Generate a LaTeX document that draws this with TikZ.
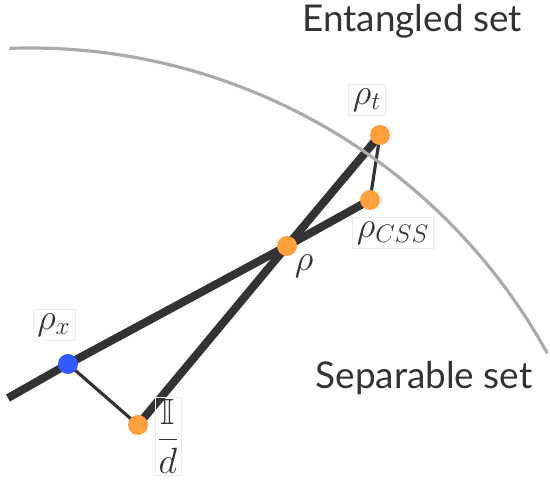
\documentclass[tikz,border=0pt]{standalone}
\usepackage{amssymb}
\usepackage{fontspec}
\setsansfont{Lato}
\usepackage{tikz}
\usetikzlibrary{positioning,backgrounds}
\definecolor{ink}{RGB}{51,51,51}
\definecolor{dotorange}{RGB}{255,160,60}
\definecolor{dotblue}{RGB}{50,90,255}
\definecolor{rim}{RGB}{170,170,170}
\definecolor{frame}{RGB}{236,236,236}

\begin{document}
\begin{tikzpicture}[
  dot/.style={circle,fill=#1,inner sep=0pt,minimum size=0.4cm},
  lbl/.style={draw=frame,line width=0.4pt,inner sep=2.5pt,font=\huge,text=ink},
  setlbl/.style={font=\sffamily\fontsize{21}{24}\selectfont,text=ink},
  ray/.style={draw=ink,line width=4.6pt},
  link/.style={draw=ink,line width=1.8pt}
]
\useasboundingbox (0,0) rectangle (11,9.62);

% boundary of the separable set
\draw[rim,line width=1.8pt] (0.6,-3.16) ++(92:11.82) arc[start angle=92,end angle=28.9,radius=11.82];

\node[setlbl] (ent) at (8.24,9.2) {Entangled set};
\node[setlbl] (sep) at (8.48,2.06) {Separable set};

\node[dot=dotorange] (rhot) at (7.6,6.92) {};
\node[dot=dotorange] (rhocss) at (7.4,5.62) {};
\node[dot=dotorange] (rho) at (5.74,4.7) {};
\node[dot=dotblue] (rhox) at (1.36,2.34) {};
\node[dot=dotorange] (mixed) at (2.76,1.12) {};
\coordinate (tail) at (0.16,1.66);

\node[lbl] (lrhot) at (7.34,7.62) {$\rho_t$};
\node[lbl] (lrhocss) at (7.86,4.96) {$\rho_{CSS}$};
\node[lbl,draw=none] (lrho) at (6.08,4.3) {$\rho$};
\node[lbl] (lrhox) at (1.08,3.12) {$\rho_x$};
\node[lbl,inner sep=1pt] (lmixed) at (3.36,0.89) {$\displaystyle\frac{\mathbb{I}}{d}$};

\begin{scope}[on background layer]
\draw[ray] (tail) -- (rhox.center) -- (rho.center) -- (rhocss.center);
\draw[ray] (mixed.center) -- (rho.center) -- (rhot.center);
\draw[link] (rhox.center) -- (mixed.center);
\draw[link] (rhot.center) -- (rhocss.center);
\end{scope}
\end{tikzpicture}
\end{document}
